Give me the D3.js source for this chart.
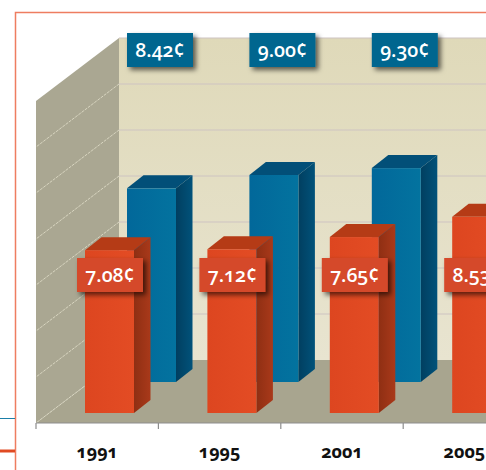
<!DOCTYPE html>
<html>
<head>
<meta charset="utf-8">
<script src="https://cdn.jsdelivr.net/npm/d3@7"></script>
<style>
  html, body { margin: 0; padding: 0; background: #fff; overflow: hidden; }
  svg { display: block; }
  text { font-family: "Open Sans", Lato, sans-serif; font-variant-numeric: oldstyle-nums; font-feature-settings: "onum" 1; }
  .year { font-size: 18px; font-weight: 700; fill: #111; }
  .tag { font-size: 19.5px; font-weight: 600; fill: #fff; text-anchor: middle; }
</style>
</head>
<body>
<svg id="chart" width="486" height="470"></svg>
<script>
const years = ['1991', '1995', '2001', '2005', '2007'];
const frontValues = [7.08, 7.12, 7.65, 8.53];
const backValues = [8.42, 9.00, 9.30];
const gridTicks = [2, 4, 6, 8, 10, 12, 14];

const width = 486, height = 470;
const svg = d3.select('#chart');

// the room: back wall at the top, floor slants down and left to the axis
const wallLeft = 119, wallBottom = 360, wallTop = 38;
const roomFront = { dx: -83, dy: 63 };

const x = d3.scaleBand().domain(years).range([36, 648]).paddingInner(0).paddingOuter(0);
const y = d3.scaleLinear().domain([0, 14]).range([wallBottom, wallTop]);

// bar sizes, offsets inside each year's band
const barW = 49, sideX = 16.5, sideY = 13;
const frontRow = { id: 'frontBar', offset: 49, drop: 53, tagX: 74, tagY: 258, fill: ['#dd4620', '#e34c24'], side: ['#8f2f13', '#a9391a'], top: '#b53b16', tag: '#d5492a' };
const backRow = { id: 'backBar', offset: 91, drop: 22, tagX: 124, tagY: 33, fill: ['#02689a', '#03739f'], side: ['#013f60', '#01527a'], top: '#024f78', tag: '#02668f' };
const tagW = 66, tagH = 34;
const pxPerUnit = y(0) - y(1);

const defs = svg.append('defs');

const wallGrad = defs.append('linearGradient').attr('id', 'wall')
    .attr('x1', 0).attr('x2', 0).attr('y1', 0).attr('y2', 1);
wallGrad.append('stop').attr('offset', '0%').attr('stop-color', '#dfd9b9');
wallGrad.append('stop').attr('offset', '100%').attr('stop-color', '#e8e4d0');

[frontRow, backRow].forEach(row => {
  ['fill', 'side'].forEach(part => {
    const grad = defs.append('linearGradient').attr('id', row.id + part);
    grad.append('stop').attr('offset', '0%').attr('stop-color', row[part][0]);
    grad.append('stop').attr('offset', '100%').attr('stop-color', row[part][1]);
  });
});

const shadow = defs.append('filter').attr('id', 'tagShadow')
    .attr('x', '-20%').attr('y', '-30%').attr('width', '150%').attr('height', '170%');
shadow.append('feDropShadow')
    .attr('dx', 3).attr('dy', 3).attr('stdDeviation', 2.4)
    .attr('flood-color', '#000').attr('flood-opacity', 0.6);

// frame bleeding off the right and bottom
svg.append('path')
    .attr('d', `M${width + 5},12.5H15.5V${height + 5}`)
    .attr('fill', 'none').attr('stroke', '#ee7d60').attr('stroke-width', 1.5);

// rules running in from the left margin
svg.append('line').attr('x1', 0).attr('x2', 15).attr('y1', 418.5).attr('y2', 418.5)
    .attr('stroke', '#1b7fa8').attr('stroke-width', 1);
svg.append('line').attr('x1', 0).attr('x2', 15).attr('y1', 451).attr('y2', 451)
    .attr('stroke', '#e04a22').attr('stroke-width', 3);

const room = svg.append('g');

room.append('rect')
    .attr('x', wallLeft).attr('y', wallTop)
    .attr('width', width - wallLeft).attr('height', wallBottom - wallTop)
    .attr('fill', 'url(#wall)');

room.append('polygon')
    .attr('points', [[wallLeft, y(14)], [wallLeft + roomFront.dx, y(14) + roomFront.dy],
      [wallLeft + roomFront.dx, y(0) + roomFront.dy], [wallLeft, y(0)]].join(' '))
    .attr('fill', '#aaa792');

room.append('polygon')
    .attr('points', [[wallLeft, y(0)], [width, y(0)], [width, y(0) + roomFront.dy],
      [wallLeft + roomFront.dx, y(0) + roomFront.dy]].join(' '))
    .attr('fill', '#a8a58f');

// gridlines on the back wall and their dashed continuation on the side wall
room.selectAll('.grid').data(gridTicks).join('line')
    .attr('class', 'grid')
    .attr('x1', wallLeft).attr('x2', width)
    .attr('y1', d => y(d)).attr('y2', d => y(d))
    .attr('stroke', '#cdc3c2').attr('stroke-width', 1.2);

room.selectAll('.sideGrid').data([0].concat(gridTicks.slice(0, -1))).join('line')
    .attr('class', 'sideGrid')
    .attr('x1', wallLeft).attr('x2', wallLeft + roomFront.dx)
    .attr('y1', d => y(d)).attr('y2', d => y(d) + roomFront.dy)
    .attr('stroke', '#d8d5c0').attr('stroke-width', 1)
    .attr('stroke-dasharray', '3 1');

function drawBars(values, row) {
  const g = svg.append('g').selectAll('g').data(values).join('g')
      .attr('transform', (d, i) => `translate(${x(years[i]) + row.offset},${y(0) + row.drop})`);

  g.append('polygon')
      .attr('points', d => {
        const h = d * pxPerUnit;
        return [[barW, 0], [barW + sideX, -sideY], [barW + sideX, -h - sideY], [barW, -h]].join(' ');
      })
      .attr('fill', `url(#${row.id}side)`);

  g.append('polygon')
      .attr('points', d => {
        const h = d * pxPerUnit;
        return [[0, -h], [sideX, -h - sideY], [barW + sideX, -h - sideY], [barW, -h]].join(' ');
      })
      .attr('fill', row.top);

  g.append('rect')
      .attr('x', 0).attr('width', barW)
      .attr('y', d => -d * pxPerUnit)
      .attr('height', d => d * pxPerUnit)
      .attr('fill', `url(#${row.id}fill)`);
}

function drawTags(values, row) {
  const g = svg.append('g').selectAll('g').data(values).join('g')
      .attr('transform', (d, i) => `translate(${x(years[i]) + row.tagX - tagW / 2},${row.tagY})`);

  g.append('rect')
      .attr('width', tagW).attr('height', tagH)
      .attr('fill', row.tag)
      .attr('filter', 'url(#tagShadow)');

  g.append('text')
      .attr('class', 'tag')
      .attr('x', tagW / 2).attr('y', 24)
      .text(d => d.toFixed(2) + '¢');
}

drawBars(backValues, backRow);
drawBars(frontValues, frontRow);
drawTags(backValues, backRow);
drawTags(frontValues, frontRow);

// x axis: ticks sit on the band edges, labels centred in the band
const axisY = y(0) + roomFront.dy;
const axis = svg.append('g').attr('transform', `translate(0,${axisY})`);
axis.append('line').attr('x1', x.range()[0]).attr('x2', width)
    .attr('stroke', '#8d8d8d').attr('stroke-width', 1.2);
axis.selectAll('.tick').data(years).join('line')
    .attr('class', 'tick')
    .attr('x1', d => x(d)).attr('x2', d => x(d))
    .attr('y1', 0).attr('y2', 6)
    .attr('stroke', '#8d8d8d').attr('stroke-width', 1.2);
axis.selectAll('.year').data(years).join('text')
    .attr('class', 'year')
    .attr('x', d => x(d) + x.bandwidth() / 2)
    .attr('y', 35)
    .attr('text-anchor', 'middle')
    .text(d => d);
</script>
</body>
</html>
